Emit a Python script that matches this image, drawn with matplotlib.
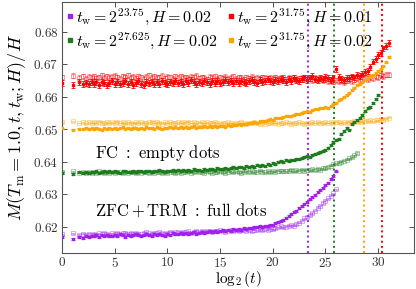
import matplotlib
matplotlib.use('Agg')
import matplotlib.pyplot as plt
from matplotlib.lines import Line2D
import numpy as np

plt.rcParams['font.family'] = 'serif'
plt.rcParams['font.serif'] = ['cmr10', 'DejaVu Serif']
plt.rcParams['mathtext.fontset'] = 'cm'
plt.rcParams['axes.formatter.use_mathtext'] = True

# log2(t): t = 1..7, then quarter steps in log2
log2_t = np.concatenate([np.log2([1, 2, 3, 4, 5, 6, 7]), np.arange(3, 31.01, 0.25)])

# values in units of 1e-4
purple_full = np.array([
    6168, 6163, 6170, 6166, 6172, 6169, 6173,
    6171, 6174, 6170, 6175, 6172, 6176, 6173, 6171,
    6175, 6172, 6177, 6174, 6170, 6176, 6173, 6175,
    6177, 6174, 6172, 6176, 6178, 6175, 6173, 6177,
    6176, 6179, 6175, 6172, 6178, 6176, 6180, 6177,
    6179, 6182, 6178, 6181, 6177, 6180, 6183, 6179,
    6182, 6185, 6181, 6184, 6186, 6183, 6187, 6184,
    6186, 6189, 6187, 6190, 6188, 6192, 6190, 6193,
    6191, 6195, 6193, 6197, 6195, 6199, 6198, 6202,
    6200, 6204, 6203, 6207, 6206, 6211, 6214, 6219,
    6222, 6228, 6234, 6238, 6245, 6250, 6258, 6265,
    6270, 6277, 6285, 6291, 6299, 6306, 6312, 6320,
    6328, 6336, 6346, 6356, 6370]) / 1e4
purple_empty = np.array([
    6177, 6180, 6176, 6179, 6175, 6178, 6176,
    6179, 6176, 6180, 6177, 6181, 6178, 6176, 6180,
    6178, 6181, 6177, 6180, 6182, 6178, 6181, 6179,
    6182, 6179, 6177, 6181, 6183, 6180, 6178, 6182,
    6180, 6183, 6181, 6178, 6182, 6185, 6181, 6183,
    6184, 6181, 6185, 6183, 6186, 6182, 6185, 6187,
    6184, 6187, 6185, 6188, 6186, 6184, 6188, 6186,
    6189, 6187, 6185, 6188, 6190, 6187, 6189, 6186,
    6189, 6191, 6188, 6190, 6187, 6191, 6189, 6192,
    6190, 6193, 6191, 6194, 6192, 6196, 6198, 6201,
    6198, 6200, 6203, 6205, 6204, 6209, 6213, 6219,
    6226, 6230, 6236, 6242, 6250, 6259, 6265, 6273,
    6280, 6287, 6296, 6303, 6315]) / 1e4

green_full = np.array([
    6365, 6362, 6367, 6364, 6368, 6366, 6369,
    6367, 6370, 6366, 6369, 6371, 6367, 6370, 6368,
    6371, 6368, 6366, 6370, 6372, 6369, 6367, 6371,
    6369, 6372, 6370, 6367, 6371, 6373, 6369, 6372,
    6370, 6374, 6371, 6368, 6373, 6371, 6375, 6372,
    6374, 6371, 6376, 6373, 6375, 6372, 6377, 6374,
    6376, 6373, 6378, 6375, 6377, 6379, 6376, 6380,
    6377, 6379, 6382, 6378, 6381, 6384, 6380, 6383,
    6385, 6382, 6386, 6384, 6388, 6385, 6389, 6387,
    6390, 6388, 6392, 6391, 6396, 6394, 6399, 6401,
    6400, 6404, 6402, 6406, 6405, 6409, 6407, 6412,
    6414, 6418, 6416, 6422, 6424, 6426, 6430, 6432,
    6436, 6441, 6452, 6460, 6466, 6470, 6485, 6494,
    6505, 6499, 6516, 6522, 6528, 6533, 6545, 6556,
    6566, 6568, 6580, 6592, 6606]) / 1e4
green_empty = np.array([
    6368, 6371, 6366, 6369, 6365, 6368, 6366,
    6369, 6366, 6370, 6367, 6365, 6369, 6366, 6368,
    6366, 6369, 6367, 6364, 6368, 6366, 6369, 6367,
    6365, 6368, 6366, 6369, 6367, 6365, 6368, 6366,
    6369, 6367, 6364, 6368, 6366, 6369, 6367, 6365,
    6368, 6366, 6369, 6367, 6370, 6366, 6368, 6371,
    6367, 6369, 6366, 6370, 6368, 6366, 6369, 6367,
    6370, 6368, 6366, 6369, 6371, 6367, 6370, 6368,
    6366, 6369, 6371, 6368, 6370, 6367, 6369, 6372,
    6369, 6367, 6370, 6368, 6371, 6369, 6372, 6370,
    6373, 6370, 6372, 6375, 6371, 6374, 6372, 6376,
    6373, 6376, 6374, 6377, 6375, 6378, 6376, 6380,
    6381, 6384, 6388, 6392, 6395, 6397, 6400, 6403,
    6406, 6410, 6414, 6420, 6427]) / 1e4

orange_full = np.array([
    6503, 6499, 6502, 6500, 6504, 6501, 6503,
    6501, 6504, 6502, 6499, 6503, 6501, 6505, 6502,
    6504, 6501, 6503, 6506, 6502, 6504, 6501, 6505,
    6503, 6500, 6504, 6502, 6506, 6503, 6505, 6502,
    6506, 6504, 6501, 6505, 6503, 6507, 6504, 6506,
    6503, 6507, 6505, 6508, 6504, 6506, 6509, 6505,
    6508, 6506, 6510, 6507, 6509, 6506, 6510, 6508,
    6509, 6511, 6508, 6512, 6510, 6514, 6512, 6515,
    6514, 6517, 6516, 6519, 6518, 6521, 6520, 6524,
    6526, 6525, 6528, 6530, 6529, 6533, 6535, 6534,
    6538, 6540, 6542, 6541, 6545, 6547, 6546, 6550,
    6553, 6555, 6554, 6558, 6561, 6563, 6565, 6566,
    6567, 6565, 6570, 6576, 6582, 6589, 6594, 6600,
    6606, 6612, 6620, 6628, 6636, 6640, 6645, 6652,
    6658, 6662, 6667, 6673, 6679, 6686, 6693, 6705, 6722]) / 1e4
orange_empty = np.array([
    6521, 6524, 6519, 6522, 6518, 6521, 6519,
    6522, 6519, 6523, 6520, 6518, 6521, 6519, 6522,
    6520, 6523, 6519, 6521, 6518, 6522, 6520, 6517,
    6521, 6519, 6522, 6520, 6518, 6521, 6523, 6519,
    6522, 6520, 6517, 6521, 6519, 6522, 6520, 6518,
    6521, 6519, 6522, 6520, 6523, 6519, 6521, 6518,
    6520, 6522, 6519, 6521, 6518, 6520, 6522, 6519,
    6517, 6520, 6518, 6521, 6519, 6516, 6520, 6518,
    6521, 6519, 6517, 6520, 6518, 6521, 6519, 6516,
    6519, 6517, 6520, 6518, 6521, 6519, 6517, 6520,
    6518, 6521, 6519, 6517, 6520, 6518, 6521, 6519,
    6517, 6520, 6518, 6521, 6519, 6522, 6520, 6518,
    6521, 6519, 6522, 6520, 6523, 6521, 6519, 6522,
    6520, 6523, 6521, 6524, 6522, 6525, 6523, 6526,
    6524, 6527, 6525, 6528, 6527, 6530, 6529, 6532, 6535]) / 1e4

red_full = np.array([
    6641, 6636, 6645, 6639, 6643, 6638, 6646,
    6640, 6644, 6637, 6646, 6641, 6635, 6643, 6647,
    6639, 6644, 6638, 6642, 6647, 6640, 6645, 6637,
    6643, 6648, 6640, 6636, 6644, 6641, 6646, 6639,
    6645, 6640, 6648, 6643, 6638, 6646, 6642, 6649,
    6641, 6645, 6639, 6647, 6643, 6650, 6644, 6640,
    6646, 6642, 6649, 6644, 6639, 6647, 6643, 6648,
    6641, 6646, 6651, 6644, 6648, 6642, 6647, 6643,
    6649, 6645, 6641, 6648, 6652, 6646, 6643, 6650,
    6645, 6649, 6653, 6647, 6644, 6651, 6648, 6655,
    6650, 6646, 6653, 6649, 6656, 6651, 6647, 6654,
    6659, 6652, 6657, 6663, 6654, 6650, 6658, 6655,
    6661, 6656, 6652, 6659, 6684, 6660, 6655, 6652,
    6658, 6656, 6662, 6659, 6666, 6664, 6671, 6676,
    6680, 6692, 6708, 6716, 6727, 6735, 6748, 6755, 6764]) / 1e4
red_empty = np.array([
    6660, 6664, 6657, 6662, 6655, 6661, 6658,
    6663, 6656, 6660, 6665, 6658, 6662, 6657, 6661,
    6664, 6659, 6655, 6662, 6660, 6666, 6658, 6661,
    6656, 6663, 6659, 6654, 6661, 6665, 6658, 6662,
    6657, 6660, 6664, 6656, 6661, 6659, 6655, 6662,
    6658, 6663, 6657, 6660, 6654, 6661, 6659, 6664,
    6656, 6660, 6658, 6653, 6661, 6657, 6662, 6655,
    6659, 6656, 6661, 6654, 6658, 6662, 6655, 6660,
    6657, 6653, 6659, 6656, 6661, 6655, 6658, 6654,
    6660, 6657, 6652, 6658, 6655, 6660, 6654, 6657,
    6659, 6653, 6657, 6655, 6660, 6652, 6656, 6658,
    6654, 6659, 6655, 6651, 6657, 6653, 6656, 6650,
    6654, 6648, 6652, 6646, 6650, 6647, 6651, 6645,
    6649, 6653, 6647, 6652, 6656, 6651, 6655, 6658,
    6654, 6659, 6657, 6662, 6660, 6665, 6662, 6667, 6668]) / 1e4

# (full, empty, error full, error empty, colour, label, vertical line)
series = [
    (purple_full, purple_empty, 0.0003, 0.0002, '#a020f0', r'$t_\mathrm{w}=2^{23.75}, H=0.02$', 23.33),
    (green_full, green_empty, 0.0003, 0.0002, '#1e7b1e', r'$t_\mathrm{w}=2^{27.625}, H=0.02$', 25.83),
    (red_full, red_empty, 0.0009, 0.0008, '#ff0000', r'$t_\mathrm{w}=2^{31.75}, H=0.01$', 30.4),
    (orange_full, orange_empty, 0.0002, 0.00015, '#ffa500', r'$t_\mathrm{w}=2^{31.75}, H=0.02$', 28.7),
]

fig = plt.figure(figsize=(4.16, 2.89), dpi=100)
ax = fig.add_axes([62/416, 36/289, 352/416, 251.3/289])

handles = []
for full, empty, ef, ee, col, lab, vline in series:
    ax.errorbar(log2_t[:len(empty)], empty, yerr=ee, fmt='s', ms=2.2, mfc='none', mec=col,
                mew=0.6, ecolor=col, elinewidth=0.6, capsize=1.2, capthick=0.6, alpha=0.45, zorder=2)
    ax.errorbar(log2_t[:len(full)], full, yerr=ef, fmt='s', ms=2.0, color=col,
                elinewidth=0.6, capsize=1.2, capthick=0.6, zorder=3)
    ax.axvline(vline, color=col, ls=':', lw=1.4, zorder=1)
    handles.append(Line2D([], [], ls='', marker='s', ms=2.2, color=col, label=lab))

ax.text(3.1, 0.6426, r'$\mathrm{FC\ :\ empty\ dots}$', fontsize=12, va='center')
ax.text(3.1, 0.6251, r'$\mathrm{ZFC}+\mathrm{TRM\ :\ full\ dots}$', fontsize=12, va='center')

ax.legend(handles=handles, loc='upper left', ncol=2, frameon=False, fontsize=11.5,
          handlelength=0.4, handletextpad=0.2, columnspacing=0.6, labelspacing=0.2,
          borderaxespad=0.1, borderpad=0.2)

ax.set_xlim(0, 33.4)
ax.set_ylim(0.61195, 0.68918)
ax.set_xticks([0, 5, 10, 15, 20, 25, 30])
ax.set_yticks([0.62, 0.63, 0.64, 0.65, 0.66, 0.67, 0.68])
ax.tick_params(direction='in', top=True, right=True, length=3.5, width=0.6, labelsize=9.5,
               colors='#333333', pad=2.5)
for s in ax.spines.values():
    s.set_color('#555555')
    s.set_linewidth(0.8)

ax.set_xlabel(r'$\log_2(t)$', fontsize=11, labelpad=-1)
ax.set_ylabel(r'$M(T_\mathrm{m}=1.0, t, t_\mathrm{w}; H)/H$', fontsize=13, labelpad=4)

fig.savefig('out.png', dpi=100)
